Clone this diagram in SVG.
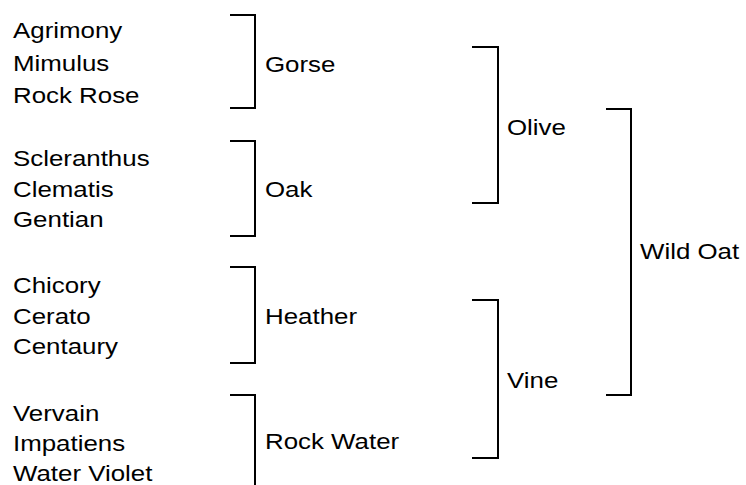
<svg xmlns="http://www.w3.org/2000/svg" width="746" height="485" viewBox="0 0 746 485">
<style>
text{font-family:"Liberation Sans",Arial,sans-serif;font-size:22.5px;fill:#000}
.br{fill:none;stroke:#000;stroke-width:2}
</style>
<rect width="746" height="485" fill="#fff"/>
<g id="connectors">
<path class="br" d="M230 15H255V108H230"/>
<path class="br" d="M230 141H255V236H230"/>
<path class="br" d="M230 267H255V363H230"/>
<path class="br" d="M230 395H255V486"/>
<path class="br" d="M472 47H498V203H472"/>
<path class="br" d="M472 300H498V458H472"/>
<path class="br" d="M606 109H631V395H606"/>
</g>
<g id="leaves-gorse">
<text transform="translate(13 38) scale(1.15 1)">Agrimony</text>
<text transform="translate(13 71) scale(1.15 1)">Mimulus</text>
<text transform="translate(13 103) scale(1.15 1)">Rock Rose</text>
</g>
<g id="leaves-oak">
<text transform="translate(13 166) scale(1.15 1)">Scleranthus</text>
<text transform="translate(13 196.5) scale(1.15 1)">Clematis</text>
<text transform="translate(13 227) scale(1.15 1)">Gentian</text>
</g>
<g id="leaves-heather">
<text transform="translate(13 293) scale(1.15 1)">Chicory</text>
<text transform="translate(13 324) scale(1.15 1)">Cerato</text>
<text transform="translate(13 354) scale(1.15 1)">Centaury</text>
</g>
<g id="leaves-rockwater">
<text transform="translate(13 420.5) scale(1.15 1)">Vervain</text>
<text transform="translate(13 450.5) scale(1.15 1)">Impatiens</text>
<text transform="translate(13 480.5) scale(1.15 1)">Water Violet</text>
</g>
<g id="gorse"><text transform="translate(265 71.5) scale(1.15 1)">Gorse</text></g>
<g id="oak"><text transform="translate(265 196.5) scale(1.15 1)">Oak</text></g>
<g id="heather"><text transform="translate(265 324) scale(1.15 1)">Heather</text></g>
<g id="rockwater"><text transform="translate(265 448.5) scale(1.15 1)">Rock Water</text></g>
<g id="olive"><text transform="translate(507 135) scale(1.15 1)">Olive</text></g>
<g id="vine"><text transform="translate(507 387.5) scale(1.15 1)">Vine</text></g>
<g id="wildoat"><text transform="translate(640 258.5) scale(1.15 1)">Wild Oat</text></g>
</svg>
